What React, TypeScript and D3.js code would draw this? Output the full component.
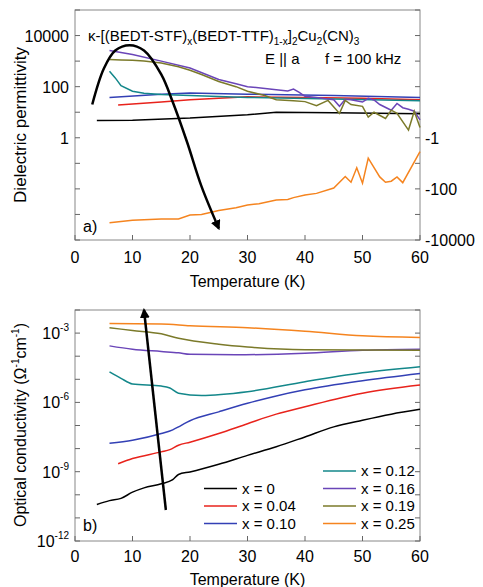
import * as d3 from "d3";

type Pt = [number, number];

const labels = ["x = 0", "x = 0.04", "x = 0.10", "x = 0.12", "x = 0.16", "x = 0.19", "x = 0.25"];
const colors = ["#000000", "#e8231c", "#3340b5", "#13878a", "#6a45b8", "#7b7a2a", "#f5841f"];

// panel a: dielectric permittivity (orange is negative)
const epsBlack: Pt[] = [[3.8, 4.7], [10, 4.9], [20, 5.9], [30, 8], [35, 10], [45, 9.5], [60, 8.7]];
const epsRed: Pt[] = [[7.5, 19], [15, 25], [20, 31], [30, 40], [40, 38], [50, 35], [60, 31]];
const epsBlue: Pt[] = [[6, 38], [15, 50], [20, 56], [30, 51], [45, 45], [60, 38]];
const epsTeal: Pt[] = [[6, 400], [7, 220], [8, 110], [10, 66], [12, 55], [15, 49], [20, 45], [30, 38], [45, 33], [60, 28]];
const epsPurple: Pt[] = [[6, 2600], [10, 1800], [15, 1000], [20, 540], [25, 190], [28, 130], [30, 100], [35, 76], [37, 68], [38, 80], [39, 60], [40, 42], [43, 35], [45, 31], [46, 17], [47, 32], [48, 31], [50, 25], [51, 35], [52, 30], [53, 20], [55, 12], [56, 22], [57, 15], [58, 13], [59, 11], [60, 5]];
const epsOlive: Pt[] = [[6, 1150], [8, 1100], [10, 1070], [12, 1000], [15, 850], [18, 600], [20, 440], [22, 300], [25, 160], [28, 100], [30, 66], [33, 45], [35, 31], [38, 28], [40, 26], [42, 18], [44, 29], [46, 9], [47, 29], [48, 20], [50, 17], [51, 6.5], [52, 10], [54, 5.7], [55, 12], [56, 9], [58, 2], [59, 11], [60, 2.5]];
const epsOrange: Pt[] = [[6, -2100], [8, -1900], [10, -1700], [12, -1600], [15, -1500], [18, -1500], [20, -1050], [22, -1000], [25, -700], [28, -550], [30, -430], [32, -380], [35, -270], [37, -260], [38, -220], [40, -175], [42, -150], [45, -93], [47, -33], [48, -55], [49, -15], [50, -60], [51, -6.3], [53, -34], [54, -55], [55, -50], [56, -34], [57, -57], [60, -3.5]];
const epsSeries = [epsBlack, epsRed, epsBlue, epsTeal, epsPurple, epsOlive, epsOrange];
const arrowA: Pt[] = [[3, 20], [5, 500], [7, 2600], [9.5, 4200], [12, 2600], [15, 300], [17, 25], [19.5, -1.5], [22, -80], [25, -3500]];

// panel b: optical conductivity
const sigBlack: Pt[] = [[3.8, 3.8e-11], [6, 5.6e-11], [8, 7e-11], [10, 1.3e-10], [12, 2e-10], [15, 3e-10], [17, 4.5e-10], [18, 7.6e-10], [20, 9.8e-10], [25, 2.1e-9], [30, 5.1e-9], [35, 1.2e-8], [40, 3.2e-8], [45, 8.7e-8], [50, 1.7e-7], [55, 3.1e-7], [60, 5e-7]];
const sigRed: Pt[] = [[7.5, 2.2e-9], [10, 3.7e-9], [15, 7.2e-9], [16.5, 9e-9], [18, 1.4e-8], [20, 1.9e-8], [25, 4.5e-8], [30, 1.2e-7], [35, 3.1e-7], [40, 6.5e-7], [50, 2.5e-6], [60, 5.6e-6]];
const sigBlue: Pt[] = [[6, 1.7e-8], [10, 2.3e-8], [15, 4.5e-8], [17, 6.5e-8], [18, 8.7e-8], [19, 1.2e-7], [20, 1.6e-7], [25, 3.9e-7], [30, 9.1e-7], [35, 1.9e-6], [40, 3.5e-6], [50, 8.7e-6], [60, 1.8e-5]];
const sigTeal: Pt[] = [[6, 2.1e-5], [8, 1.1e-5], [10, 6.3e-6], [15, 5.1e-6], [16.5, 4.2e-6], [18, 2.5e-6], [22, 2e-6], [30, 2.9e-6], [40, 7.9e-6], [50, 1.9e-5], [60, 3.5e-5]];
const sigPurple: Pt[] = [[6, 2.8e-4], [10, 2e-4], [15, 1.6e-4], [18, 1.4e-4], [20, 1.2e-4], [28, 1.15e-4], [40, 1.35e-4], [50, 1.8e-4], [60, 2e-4]];
const sigOlive: Pt[] = [[6, 1.7e-3], [10, 1.3e-3], [15, 9.3e-4], [18, 6e-4], [25, 3.3e-4], [30, 2.5e-4], [40, 1.9e-4], [60, 1.8e-4]];
const sigOrange: Pt[] = [[6, 2.6e-3], [15, 2.5e-3], [20, 2.1e-3], [30, 1.7e-3], [40, 1.2e-3], [50, 7.6e-4], [60, 6.5e-4]];
const sigSeries = [sigBlack, sigRed, sigBlue, sigTeal, sigPurple, sigOlive, sigOrange];
const arrowB: Pt[] = [[15.8, 2.2e-11], [12, 1e-2]];

const xTicks = [0, 10, 20, 30, 40, 50, 60];
const epsLeftTicks = [10000, 100, 1];
const epsRightTicks = [-1, -100, -10000];
const sigTicks = [-3, -6, -9, -12];

const FONT = "Liberation Sans, Arial, sans-serif";
const L = 75, R = 420;

// signed log: positive above 0, negative below
const tr = (v: number) => Math.sign(v) * Math.log10(Math.abs(v));

export default function App() {
  const x = d3.scaleLinear().domain([0, 60]).range([L, R]);
  const yA = d3.scaleLinear().domain([-4, 5]).range([240, 10]);
  const yB = d3.scaleLog().domain([1e-12, 1e-2]).range([541, 310]);

  const lineA = d3.line<Pt>().x((d) => x(d[0])).y((d) => yA(tr(d[1])));
  const lineB = d3.line<Pt>().x((d) => x(d[0])).y((d) => yB(d[1])).curve(d3.curveMonotoneX);
  const arrowLine = d3.line<Pt>().x((d) => x(d[0])).y((d) => yA(tr(d[1]))).curve(d3.curveCatmullRom);

  const tickA = d3.range(-4, 6);
  const tickB = d3.range(-12, -1);

  return (
    <svg width={483} height={587} style={{ position: "absolute", left: 0, top: 0 }} fontFamily={FONT}>
      <defs>
        <marker id="ah" viewBox="0 0 10 10" refX="8" refY="5" markerWidth="4" markerHeight="4" orient="auto">
          <path d="M0,0 L10,5 L0,10 z" fill="#000" />
        </marker>
      </defs>
      <rect width={483} height={587} fill="#fff" />

      {/* panel a */}
      <rect x={L} y={10} width={R - L} height={230} fill="none" stroke="#888" strokeWidth={1} />
      {tickA.map((t) => (
        <g key={t} stroke="#666">
          <line x1={L} x2={L + 5} y1={yA(t)} y2={yA(t)} />
          <line x1={R} x2={R - 5} y1={yA(t)} y2={yA(t)} />
        </g>
      ))}
      {epsLeftTicks.map((v) => (
        <text key={v} x={L - 6} y={yA(tr(v)) + 6} textAnchor="end" fontSize={16}>{v}</text>
      ))}
      {epsRightTicks.map((v) => (
        <text key={v} x={R + 5} y={yA(tr(v)) + 6} fontSize={16}>{v}</text>
      ))}
      {xTicks.map((t) => (
        <g key={t}>
          <line x1={x(t)} x2={x(t)} y1={240} y2={235} stroke="#666" />
          <text x={x(t)} y={263} textAnchor="middle" fontSize={16}>{t}</text>
        </g>
      ))}
      <text x={(L + R) / 2} y={287} textAnchor="middle" fontSize={16}>Temperature (K)</text>
      <text transform={`translate(26,${125}) rotate(-90)`} textAnchor="middle" fontSize={17}>Dielectric permittivity</text>
      <text x={88} y={41} fontSize={15}>
        κ-[(BEDT-STF)<tspan fontSize={10} dy={4}>x</tspan>
        <tspan dy={-4}>(BEDT-TTF)</tspan><tspan fontSize={10} dy={4}>1-x</tspan>
        <tspan dy={-4}>]</tspan><tspan fontSize={10} dy={4}>2</tspan>
        <tspan dy={-4}>Cu</tspan><tspan fontSize={10} dy={4}>2</tspan>
        <tspan dy={-4}>(CN)</tspan><tspan fontSize={10} dy={4}>3</tspan>
      </text>
      <text x={265} y={64} fontSize={15}>E || a</text>
      <text x={325} y={64} fontSize={15}>f = 100 kHz</text>
      <text x={83} y={232} fontSize={16}>a)</text>
      {epsSeries.map((s, i) => (
        <path key={i} d={lineA(s) ?? ""} fill="none" stroke={colors[i]} strokeWidth={1.5} />
      ))}
      <path d={arrowLine(arrowA) ?? ""} fill="none" stroke="#000" strokeWidth={2.5} markerEnd="url(#ah)" />

      {/* panel b */}
      <rect x={L} y={310} width={R - L} height={231} fill="none" stroke="#888" strokeWidth={1} />
      {tickB.map((t) => (
        <g key={t} stroke="#666">
          <line x1={L} x2={L + 5} y1={yB(10 ** t)} y2={yB(10 ** t)} />
          <line x1={R} x2={R - 5} y1={yB(10 ** t)} y2={yB(10 ** t)} />
        </g>
      ))}
      {sigTicks.map((t) => (
        <text key={t} x={L - 6} y={yB(10 ** t) + 6} textAnchor="end" fontSize={16}>
          10<tspan fontSize={10} dy={-8}>{t}</tspan>
        </text>
      ))}
      {xTicks.map((t) => (
        <g key={t}>
          <line x1={x(t)} x2={x(t)} y1={541} y2={536} stroke="#666" />
          <text x={x(t)} y={562} textAnchor="middle" fontSize={16}>{t}</text>
        </g>
      ))}
      <text x={(L + R) / 2} y={585} textAnchor="middle" fontSize={16}>Temperature (K)</text>
      <text transform={`translate(26,${425}) rotate(-90)`} textAnchor="middle" fontSize={16}>
        Optical  conductivity (Ω<tspan fontSize={10} dy={-7}>-1</tspan><tspan dy={7}>cm</tspan><tspan fontSize={10} dy={-7}>-1</tspan><tspan dy={7}>)</tspan>
      </text>
      <text x={83} y={531} fontSize={16}>b)</text>
      {sigSeries.map((s, i) => (
        <path key={i} d={lineB(s) ?? ""} fill="none" stroke={colors[i]} strokeWidth={1.5} />
      ))}
      <path
        d={d3.line<Pt>().x((d) => x(d[0])).y((d) => yB(d[1]))(arrowB) ?? ""}
        fill="none" stroke="#000" strokeWidth={2.5} markerEnd="url(#ah)"
      />
      {labels.map((lab, i) => {
        const col = i < 3 ? 0 : 1;
        const row = i < 3 ? i + 1 : i - 3;
        const lx = col === 0 ? 204 : 323;
        const ly = 471 + row * 17.5;
        return (
          <g key={lab}>
            <line x1={lx} x2={lx + 33} y1={ly} y2={ly} stroke={colors[i]} strokeWidth={1.5} />
            <text x={lx + 38} y={ly + 5} fontSize={15}>{lab}</text>
          </g>
        );
      })}
    </svg>
  );
}
